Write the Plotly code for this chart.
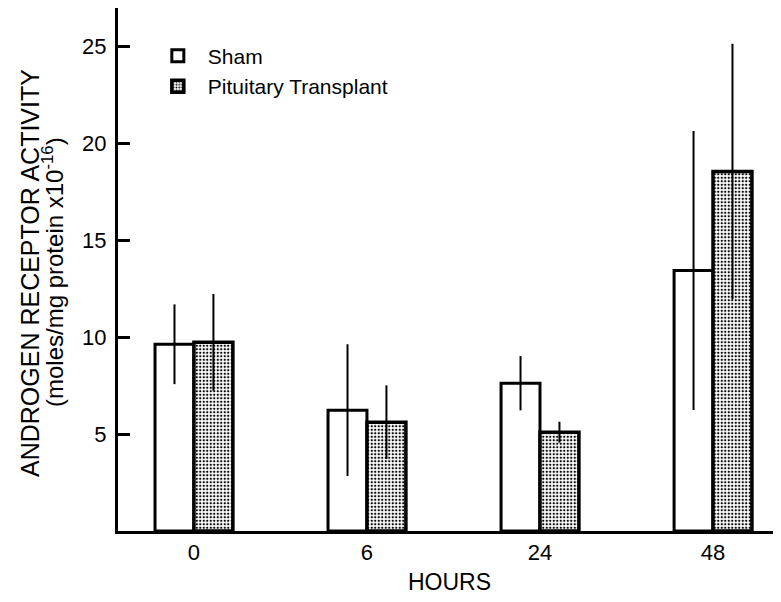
import plotly.graph_objects as go

hours = ["0", "6", "24", "48"]
sham = [9.64, 6.24, 7.63, 13.45]
sham_err = [2.06, 3.4, 1.4, 7.2]
transplant = [9.74, 5.62, 5.10, 18.56]
transplant_err = [2.5, 1.9, 0.54, 6.6]
y_ticks = [5, 10, 15, 20, 25]
y_title_1 = "ANDROGEN RECEPTOR ACTIVITY"
y_title_2 = "(moles/mg protein x10<sup>-16</sup>)"
x_title = "HOURS"

FONT = "Liberation Sans, Arial, sans-serif"

# page has an 8px body margin: figure is 773x594 and placed at (8, 8)
W, H = 773, 594
L, R, T, B = 110, 0, 0, 71

fig = go.Figure()
fig.add_trace(go.Bar(
    x=hours, y=sham, name="Sham",
    marker=dict(color="white", line=dict(color="black", width=3)),
    error_y=dict(type="data", array=sham_err, visible=True,
                 color="black", thickness=2, width=0),
))
fig.add_trace(go.Bar(
    x=hours, y=transplant, name="Pituitary Transplant",
    marker=dict(color="white", line=dict(color="black", width=3.5),
                pattern=dict(shape=".", fgcolor="black", bgcolor="white",
                             size=3.5, solidity=0.35, fillmode="replace")),
    error_y=dict(type="data", array=transplant_err, visible=True,
                 color="black", thickness=2, width=0),
))

pw = W - L - R
ph = H - T - B
fig.update_layout(
    width=W, height=H,
    margin=dict(l=L, r=R, t=T, b=B),
    paper_bgcolor="white", plot_bgcolor="white",
    barmode="group", bargap=0.55, bargroupgap=0,
    font=dict(family=FONT, color="black", size=20),
    showlegend=True,
    legend=dict(x=0.045, y=0.947, xanchor="left", yanchor="top",
                font=dict(size=21, family=FONT), bgcolor="rgba(0,0,0,0)",
                itemwidth=50, tracegroupgap=0),
    annotations=[
        dict(text=y_title_1, textangle=-90, xref="paper", yref="paper",
             x=(22 - L) / pw, y=(ph - 265) / ph, xanchor="center", yanchor="middle",
             showarrow=False, font=dict(size=25, family=FONT)),
        dict(text=y_title_2, textangle=-90, xref="paper", yref="paper",
             x=(45 - L) / pw, y=(ph - 264) / ph, xanchor="center", yanchor="middle",
             showarrow=False, font=dict(size=24, family=FONT)),
    ],
)
fig.update_xaxes(
    type="category", range=[-0.439, 3.393],
    showline=True, linecolor="black", linewidth=3,
    ticks="", showgrid=False, zeroline=False,
    tickfont=dict(size=22), ticklabelstandoff=0,
    title=dict(text=x_title, font=dict(size=23), standoff=10),
)
fig.update_yaxes(
    range=[0, 27], tickvals=y_ticks,
    showline=True, linecolor="black", linewidth=3,
    ticks="inside", ticklen=12, tickwidth=2.5, tickcolor="black",
    showgrid=False, zeroline=False,
    tickfont=dict(size=22), ticklabelstandoff=4,
)

fig.write_html("out.html")
